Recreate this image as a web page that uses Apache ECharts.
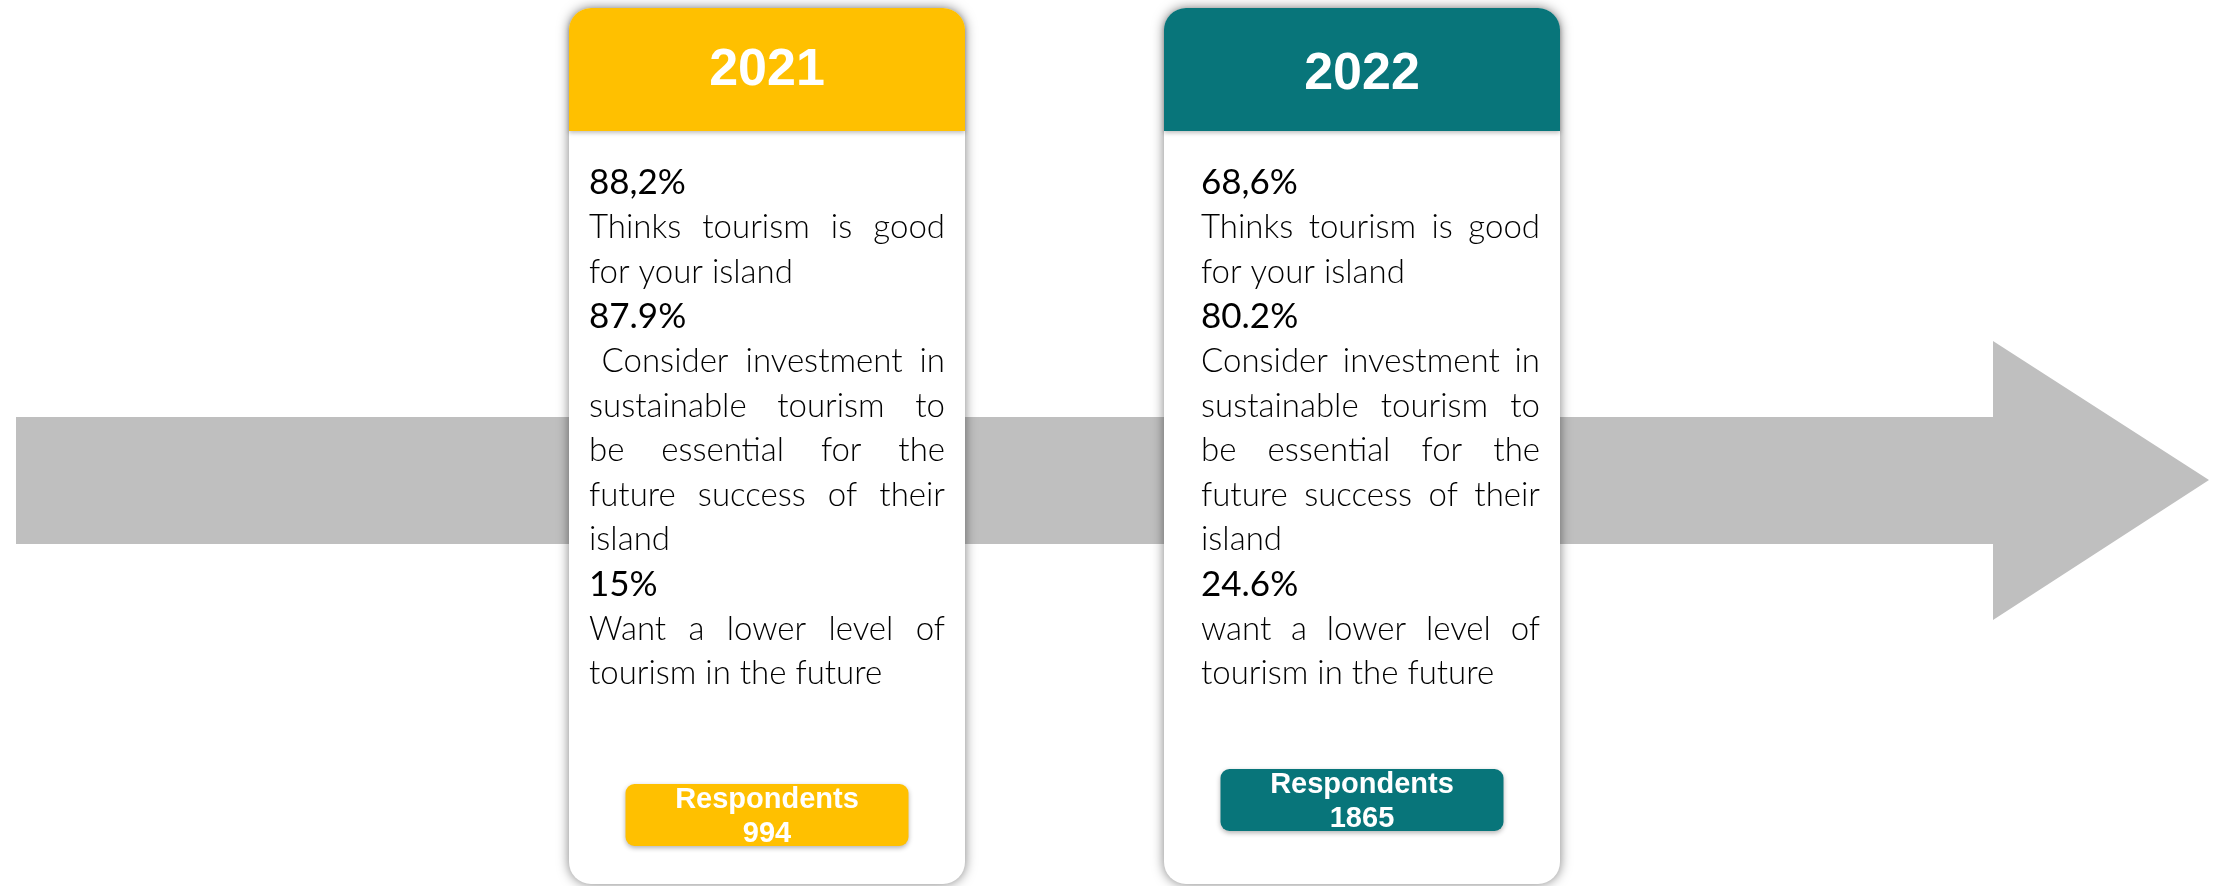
<!DOCTYPE html>
<html>
<head>
<meta charset="utf-8">
<script src="https://cdn.jsdelivr.net/npm/echarts@6/dist/echarts.min.js"></script>
<style>
  html, body { margin: 0; padding: 0; background: #fff; }
  #echart { width: 2226px; height: 886px; }
</style>
</head>
<body>
<div id="echart"></div>
<script>
// data
const years = ['2021', '2022'];
const cardColors = ['#FFC000', '#08757A'];
const respondents = [994, 1865];
const goodShare = ['88,2%', '68,6%'];
const investShare = ['87.9%', '80.2%'];
const lowerShare = ['15%', '24.6%'];
const goodText = [
    ['Thinks tourism is good', 'for your island'],
    ['Thinks tourism is good', 'for your island']
];
const investText = [
    [' Consider investment in', 'sustainable tourism to', 'be essential for the', 'future success of their', 'island'],
    ['Consider investment in', 'sustainable tourism to', 'be essential for the', 'future success of their', 'island']
];
const lowerText = [
    ['Want a lower level of', 'tourism in the future'],
    ['want a lower level of', 'tourism in the future']
];

// layout
const cardX = [569, 1164];
const cardW = 396;
const cardTop = 8;
const cardBottom = 884;
const headH = 123;
const padLeft = [20, 37];
const padRight = 20;
const lineTop = 183;
const lineStep = 44.6;
const boxTop = [784, 769];
const boxW = 283;
const boxH = 62;

const bodyFont = 'Lato';
const bodySize = 33;
const pctSize = 35;

const chart = echarts.init(document.getElementById('echart'));

// mesure texte pour justifier
const cv = document.createElement('canvas').getContext('2d');
function textW(str, weight, size) {
    cv.font = weight + ' ' + size + 'px ' + bodyFont;
    return cv.measureText(str).width;
}

function lineEls(str, x0, x1, y, justify, weight, size) {
    const els = [];
    const style = { fill: '#000', font: weight + ' ' + size + 'px ' + bodyFont, textVerticalAlign: 'middle' };
    if (!justify) {
        els.push({ type: 'text', x: x0, y: y, z: 10, style: Object.assign({ text: str }, style) });
        return els;
    }
    let indent = 0;
    if (str[0] === ' ') indent = textW(' ', weight, size) * 1.4;
    const words = str.trim().split(' ');
    const widths = words.map(w => textW(w, weight, size));
    const total = widths.reduce((a, b) => a + b, 0);
    const gap = (x1 - x0 - indent - total) / (words.length - 1);
    let x = x0 + indent;
    words.forEach((w, i) => {
        els.push({ type: 'text', x: x, y: y, z: 10, style: Object.assign({ text: w }, style) });
        x += widths[i] + gap;
    });
    return els;
}

const graphic = [];

// fleche grise
graphic.push({
    type: 'polygon',
    z: 1,
    shape: { points: [[16, 417], [1993, 417], [1993, 341], [2209, 480], [1993, 620], [1993, 544], [16, 544]] },
    style: { fill: '#BFBFBF' }
});

years.forEach((yr, i) => {
    const x = cardX[i];
    const cx = x + cardW / 2;
    const color = cardColors[i];
    graphic.push({
        type: 'rect', z: 3,
        shape: { x: x, y: cardTop, width: cardW, height: cardBottom - cardTop, r: 22 },
        style: { fill: '#fff', shadowBlur: 12, shadowColor: 'rgba(0,0,0,0.5)' }
    });
    graphic.push({
        type: 'rect', z: 4,
        shape: { x: x, y: cardTop, width: cardW, height: headH, r: [22, 22, 0, 0] },
        style: { fill: color, shadowBlur: 4, shadowOffsetY: 2, shadowColor: 'rgba(0,0,0,0.25)' }
    });
    graphic.push({
        type: 'text', z: 5, x: cx, y: cardTop + headH / 2 + 1 + i * 4,
        style: { text: yr, fill: '#fff', font: 'bold 52px "Liberation Sans", Arial', textAlign: 'center', textVerticalAlign: 'middle' }
    });

    // lignes du texte
    const rows = [];
    rows.push({ t: goodShare[i], pct: true });
    goodText[i].forEach((t, k) => rows.push({ t: t, just: k < goodText[i].length - 1 }));
    rows.push({ t: investShare[i], pct: true });
    investText[i].forEach((t, k) => rows.push({ t: t, just: k < investText[i].length - 1 }));
    rows.push({ t: lowerShare[i], pct: true });
    lowerText[i].forEach((t, k) => rows.push({ t: t, just: k < lowerText[i].length - 1 }));

    const x0 = x + padLeft[i];
    const x1 = x + cardW - padRight;
    rows.forEach((r, k) => {
        const y = lineTop + k * lineStep;
        lineEls(r.t, x0, x1, y, !!r.just, r.pct ? 'normal' : '300', r.pct ? pctSize : bodySize)
            .forEach(e => graphic.push(e));
    });

    // boite repondants
    graphic.push({
        type: 'rect', z: 6,
        shape: { x: cx - boxW / 2, y: boxTop[i], width: boxW, height: boxH, r: 9 },
        style: { fill: color, shadowBlur: 5, shadowOffsetY: 2, shadowColor: 'rgba(0,0,0,0.3)' }
    });
    graphic.push({
        type: 'text', z: 7, x: cx, y: boxTop[i] + 16,
        style: { text: 'Respondents', fill: '#fff', font: 'bold 29px "Liberation Sans", Arial', textAlign: 'center', textVerticalAlign: 'middle' }
    });
    graphic.push({
        type: 'text', z: 7, x: cx, y: boxTop[i] + 50,
        style: { text: String(respondents[i]), fill: '#fff', font: 'bold 29px "Liberation Sans", Arial', textAlign: 'center', textVerticalAlign: 'middle' }
    });
});

chart.setOption({
    backgroundColor: '#fff',
    animation: false,
    graphic: graphic
});
</script>
</body>
</html>
